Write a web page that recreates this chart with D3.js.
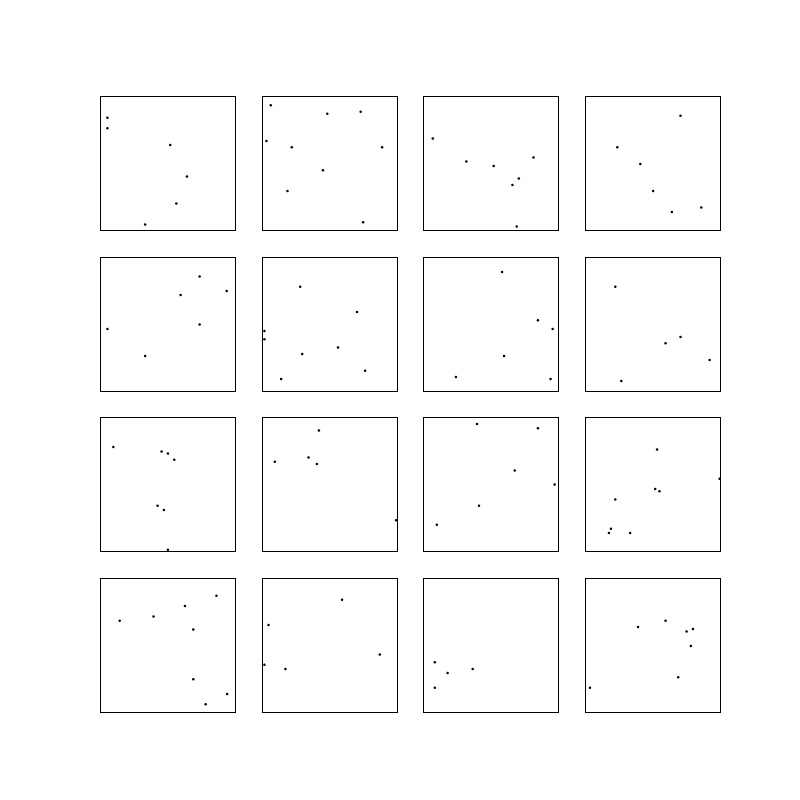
<!DOCTYPE html>
<html><head><meta charset="utf-8">
<script src="https://cdn.jsdelivr.net/npm/d3@7"></script>
<style>html,body{margin:0;padding:0;background:#fff}</style>
</head><body>
<script>
// Each panel: list of [x, y] values in a 0..1 domain
const panel1  = [[0.055,0.838],[0.055,0.759],[0.521,0.634],[0.645,0.398],[0.566,0.197],[0.335,0.040]];
const panel2  = [[0.067,0.930],[0.486,0.868],[0.734,0.883],[0.035,0.664],[0.223,0.617],[0.893,0.617],[0.454,0.445],[0.191,0.291],[0.752,0.057]];
const panel3  = [[0.069,0.682],[0.318,0.510],[0.521,0.478],[0.816,0.540],[0.707,0.383],[0.660,0.336],[0.692,0.025]];
const panel4  = [[0.707,0.853],[0.238,0.617],[0.409,0.493],[0.504,0.291],[0.643,0.134],[0.861,0.167]];
const panel5  = [[0.739,0.853],[0.598,0.714],[0.940,0.744],[0.739,0.493],[0.055,0.460],[0.335,0.259]];
const panel6  = [[0.285,0.776],[0.707,0.587],[0.020,0.445],[0.020,0.383],[0.566,0.321],[0.300,0.274],[0.767,0.149],[0.144,0.087]];
const panel7  = [[0.583,0.886],[0.849,0.525],[0.958,0.460],[0.598,0.259],[0.241,0.102],[0.943,0.087]];
const panel8  = [[0.223,0.776],[0.707,0.400],[0.596,0.353],[0.923,0.229],[0.268,0.072]];
const panel9  = [[0.099,0.779],[0.457,0.746],[0.504,0.731],[0.551,0.684],[0.427,0.341],[0.474,0.308],[0.504,0.012]];
const panel10 = [[0.424,0.903],[0.097,0.669],[0.347,0.701],[0.409,0.652],[0.997,0.231]];
const panel11 = [[0.397,0.950],[0.849,0.918],[0.677,0.604],[0.973,0.498],[0.412,0.341],[0.099,0.199]];
const panel12 = [[0.533,0.761],[0.997,0.542],[0.519,0.465],[0.551,0.448],[0.223,0.386],[0.191,0.169],[0.176,0.137],[0.333,0.137]];
const panel13 = [[0.864,0.868],[0.630,0.791],[0.397,0.714],[0.146,0.682],[0.692,0.617],[0.692,0.244],[0.943,0.134],[0.784,0.057]];
const panel14 = [[0.596,0.838],[0.050,0.649],[0.876,0.430],[0.020,0.353],[0.176,0.321]];
const panel15 = [[0.084,0.371],[0.179,0.291],[0.365,0.321],[0.084,0.182]];
const panel16 = [[0.392,0.634],[0.596,0.682],[0.752,0.602],[0.799,0.619],[0.784,0.493],[0.690,0.259],[0.035,0.182]];
const panels = [panel1,panel2,panel3,panel4,panel5,panel6,panel7,panel8,panel9,panel10,panel11,panel12,panel13,panel14,panel15,panel16];

const W = 800, H = 800;
const mLeft = 100, mRight = 720, mTop = 96, mBottom = 712;
const nCols = 4, nRows = 4, space = 0.2;
const pw = (mRight - mLeft) / (nCols + (nCols - 1) * space);
const ph = (mBottom - mTop) / (nRows + (nRows - 1) * space);

const svg = d3.select("body").append("svg").attr("width", W).attr("height", H);
const defs = svg.append("defs");

panels.forEach((pts, i) => {
  const r = Math.floor(i / nCols), c = i % nCols;
  const x0 = mLeft + c * pw * (1 + space);
  const y0 = mTop + r * ph * (1 + space);
  const x = d3.scaleLinear().domain([0, 1]).range([x0, x0 + pw]);
  const y = d3.scaleLinear().domain([0, 1]).range([y0 + ph, y0]);
  const fx0 = Math.round(x(0)), fx1 = Math.round(x(1));
  const fy0 = Math.round(y(1)), fy1 = Math.round(y(0));
  defs.append("clipPath").attr("id", "clip" + i)
    .append("rect").attr("x", fx0).attr("y", fy0)
    .attr("width", fx1 - fx0 + 1).attr("height", fy1 - fy0 + 1);
  svg.append("g").attr("clip-path", `url(#clip${i})`)
    .selectAll("circle").data(pts).enter().append("circle")
    .attr("cx", d => x(d[0])).attr("cy", d => y(d[1]))
    .attr("r", 1.25).attr("fill", "#000");
  svg.append("rect")
    .attr("x", fx0 + 0.5).attr("y", fy0 + 0.5)
    .attr("width", fx1 - fx0).attr("height", fy1 - fy0)
    .attr("fill", "none").attr("stroke", "#000").attr("stroke-width", 1);
});
</script>
</body></html>
